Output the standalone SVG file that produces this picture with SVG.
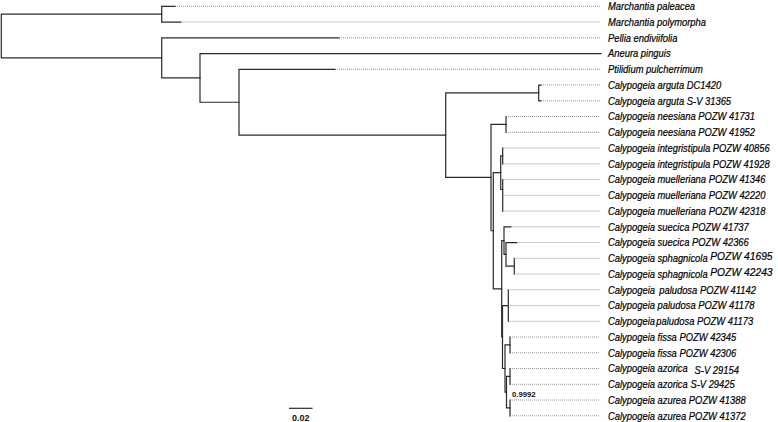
<svg xmlns="http://www.w3.org/2000/svg" width="778" height="422" viewBox="0 0 778 422">
<style>
.b{stroke:#2a2a2a;stroke-width:1.2;fill:none;stroke-linecap:square}
.d{stroke:#7a7a7a;stroke-width:0.8;stroke-dasharray:1 1;fill:none}
.t{font-family:"Liberation Sans",Arial,sans-serif;font-style:italic;font-size:10.2px;fill:#000;stroke:#000;stroke-width:0.2}
.big{font-size:11.2px}
.s{font-family:"Liberation Sans",Arial,sans-serif;font-weight:bold;fill:#111}
</style>
<rect width="778" height="422" fill="#fff"/>
<g id="connectors">
<path class="b" d="M1.3,14.2V57.85M1.3,14.2H161.7M1.3,57.85H161.7"/>
<path class="b" d="M161.7,6.3V22.05M161.7,6.3H175M161.7,22.05H180.7"/>
<path class="b" d="M161.7,37.8V77.9M161.7,37.8H339M161.7,77.9H200"/>
<path class="b" d="M200,53.55V102.25M200,53.55H601M200,102.25H239"/>
<path class="b" d="M239,69.3V135.2M239,69.3H335M239,135.2H445.7"/>
<path class="b" d="M445.7,92.9V177.45M445.7,92.9H538.7M445.7,177.45H491"/>
<path class="b" d="M538.7,85.05V100.8M538.7,85.05H541M538.7,100.8H541"/>
<path class="b" d="M491,124.4V230.75M491,124.4H506M491,230.75H493.3"/>
<path class="b" d="M506,116.55V132.3"/>
<path class="b" d="M493.3,172.7V288.8M493.3,172.7H500.7M493.3,288.8H501.7"/>
<path class="b" d="M500.7,155.9V189.5M500.7,155.9H502.7M500.7,189.5H502.7"/>
<path class="b" d="M502.7,148.05V163.8M502.7,179.55V211.05"/>
<path class="b" d="M501.7,240.6V337M501.7,240.6H504M501.7,337H502.5"/>
<path class="b" d="M504,226.8V254.4M504,226.8H510.7M504,254.4H506"/>
<path class="b" d="M506,242.55V266.2M506,242.55H516.7M506,266.2H514.3"/>
<path class="b" d="M514.3,258.3V274.05"/>
<path class="b" d="M502.5,305.55V368.5M502.5,305.55H508.3M502.5,368.5H505"/>
<path class="b" d="M508.3,289.8V321.3"/>
<path class="b" d="M505,344.9V392.2M505,344.9H510M505,392.2H506.5"/>
<path class="b" d="M510,337.05V352.8"/>
<path class="b" d="M506.5,376.4V407.9M506.5,376.4H510M506.5,407.9H510"/>
<path class="b" d="M510,368.55V384.3M510,400.05V415.8"/>
<path class="d" d="M175,6.3H600M180.7,22.05H600M339,37.8H600M335,69.3H600M541,85.05H600M541,100.8H600M506,116.55H600M506,132.3H600M502.7,148.05H600M502.7,163.8H600M502.7,179.55H600M502.7,195.3H600M502.7,211.05H600M510.7,226.8H600M516.7,242.55H600M514.3,258.3H600M514.3,274.05H600M508.3,289.8H600M508.3,305.55H600M508.3,321.3H600M510,337.05H600M510,352.8H600M510,368.55H600M510,384.3H600M510,400.05H600M510,415.8H600"/>
<path class="b" d="M289.5,408.3H312"/>
</g>
<g id="tip-marchantia-paleacea" transform="translate(608,10) scale(0.92,1)"><text class="t">Marchantia paleacea</text></g>
<g id="tip-marchantia-polymorpha" transform="translate(608,25.8) scale(0.92,1)"><text class="t">Marchantia polymorpha</text></g>
<g id="tip-pellia" transform="translate(608,41.5) scale(0.92,1)"><text class="t">Pellia endiviifolia</text></g>
<g id="tip-aneura" transform="translate(608,57.3) scale(0.92,1)"><text class="t">Aneura pinguis</text></g>
<g id="tip-ptilidium" transform="translate(608,73) scale(0.92,1)"><text class="t">Ptilidium pulcherrimum</text></g>
<g id="tip-arguta-dc1420" transform="translate(608,88.8) scale(0.92,1)"><text class="t">Calypogeia arguta DC1420</text></g>
<g id="tip-arguta-sv31365" transform="translate(608,104.5) scale(0.92,1)"><text class="t">Calypogeia arguta S-V 31365</text></g>
<g id="tip-neesiana-41731" transform="translate(608,120.3) scale(0.92,1)"><text class="t">Calypogeia neesiana POZW 41731</text></g>
<g id="tip-neesiana-41952" transform="translate(608,136) scale(0.92,1)"><text class="t">Calypogeia neesiana POZW 41952</text></g>
<g id="tip-integristipula-40856" transform="translate(608,151.8) scale(0.92,1)"><text class="t">Calypogeia integristipula POZW 40856</text></g>
<g id="tip-integristipula-41928" transform="translate(608,167.5) scale(0.92,1)"><text class="t">Calypogeia integristipula POZW 41928</text></g>
<g id="tip-muelleriana-41346" transform="translate(608,183.3) scale(0.92,1)"><text class="t">Calypogeia muelleriana POZW 41346</text></g>
<g id="tip-muelleriana-42220" transform="translate(608,199) scale(0.92,1)"><text class="t">Calypogeia muelleriana POZW 42220</text></g>
<g id="tip-muelleriana-42318" transform="translate(608,214.8) scale(0.92,1)"><text class="t">Calypogeia muelleriana POZW 42318</text></g>
<g id="tip-suecica-41737" transform="translate(608,230.5) scale(0.92,1)"><text class="t">Calypogeia suecica POZW 41737</text></g>
<g id="tip-suecica-42366" transform="translate(608,246.3) scale(0.92,1)"><text class="t">Calypogeia suecica POZW 42366</text></g>
<g id="tip-sphagnicola-41695" transform="translate(608,262) scale(0.92,1)"><text class="t">Calypogeia sphagnicola <tspan class="big" dy="-2">POZW 41695</tspan></text></g>
<g id="tip-sphagnicola-42243" transform="translate(608,277.8) scale(0.92,1)"><text class="t">Calypogeia sphagnicola <tspan class="big" dy="-2">POZW 42243</tspan></text></g>
<g id="tip-paludosa-41142" transform="translate(608,293.5) scale(0.92,1)"><text class="t">Calypogeia <tspan dx="1.8">paludosa POZW 41142</tspan></text></g>
<g id="tip-paludosa-41178" transform="translate(608,309.3) scale(0.92,1)"><text class="t">Calypogeia paludosa POZW 41178</text></g>
<g id="tip-paludosa-41173" transform="translate(608,325) scale(0.92,1)"><text class="t">Calypogeia<tspan dx="1.5">paludosa POZW 41173</tspan></text></g>
<g id="tip-fissa-42345" transform="translate(608,340.8) scale(0.92,1)"><text class="t">Calypogeia fissa POZW 42345</text></g>
<g id="tip-fissa-42306" transform="translate(608,356.5) scale(0.92,1)"><text class="t">Calypogeia fissa POZW 42306</text></g>
<g id="tip-azorica-29154" transform="translate(608,372.3) scale(0.92,1)"><text class="t">Calypogeia azorica <tspan dx="4.5" dy="1.5">S-V 29154</tspan></text></g>
<g id="tip-azorica-29425" transform="translate(608,388) scale(0.92,1)"><text class="t">Calypogeia azorica S-V 29425</text></g>
<g id="tip-azurea-41388" transform="translate(608,403.8) scale(0.92,1)"><text class="t">Calypogeia azurea POZW 41388</text></g>
<g id="tip-azurea-41372" transform="translate(608,419.5) scale(0.92,1)"><text class="t">Calypogeia azurea POZW 41372</text></g>
<g id="support"><text class="s" x="512" y="397.3" font-size="7.7">0.9992</text></g>
<g id="scale"><text class="s" x="300.7" y="420.5" font-size="9" text-anchor="middle">0.02</text></g>
</svg>
